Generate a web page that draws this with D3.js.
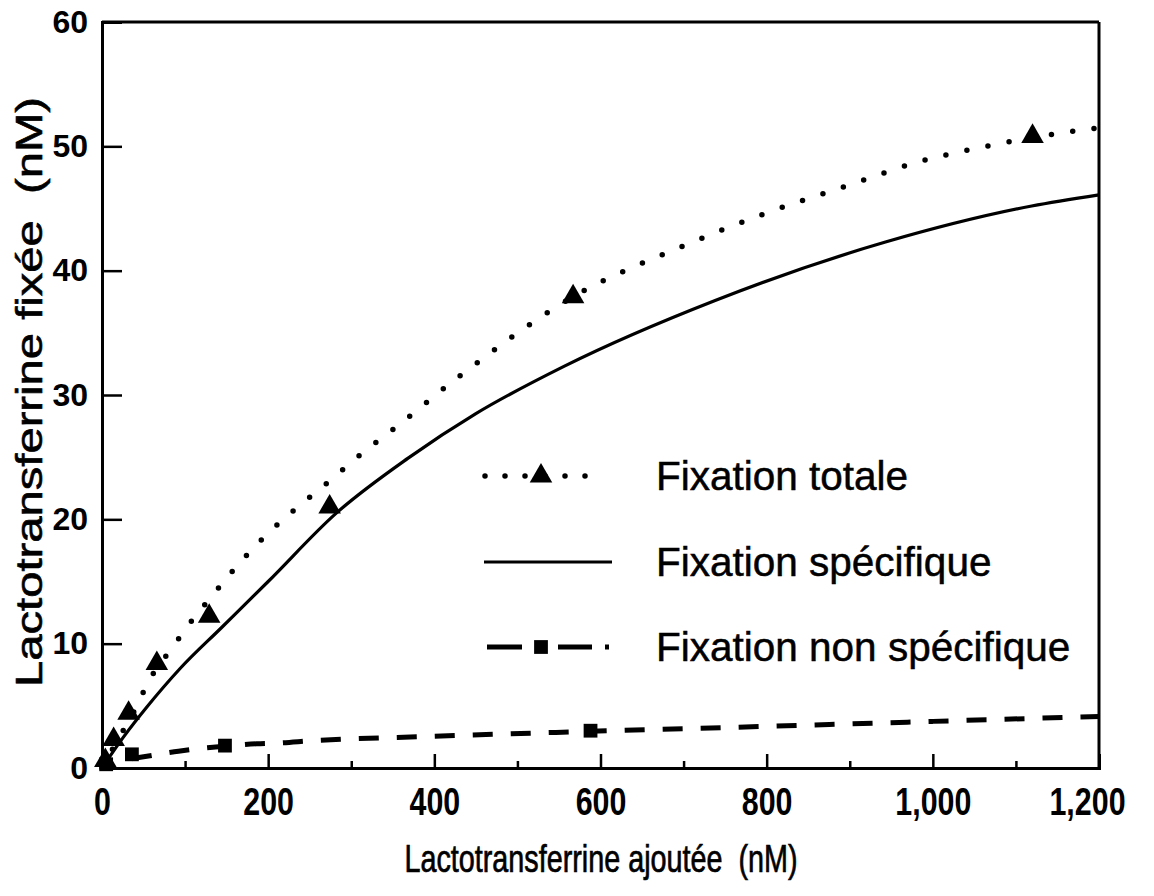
<!DOCTYPE html>
<html>
<head>
<meta charset="utf-8">
<script src="https://cdn.jsdelivr.net/npm/d3@7"></script>
<style>
  body { margin: 0; background: #fff; }
  svg { display: block; }
</style>
</head>
<body>
<div id="chart"></div>
<script>
// measured points (nM)
var totalX = [4, 14, 32, 66, 129, 274, 567, 1120];
var totalY = [0.6, 2.3, 4.4, 8.4, 12.2, 21.0, 37.9, 50.8];
var nonSpecX = [5, 36, 148, 588];
var nonSpecY = [0.3, 1.1, 1.8, 3.0];

// curves read along the lines of the figure
var totalCurveX = [0, 15, 42, 54, 87, 103, 122, 194, 234, 276, 320, 342, 430, 567, 700, 794, 900, 980, 1064, 1120, 1200];
var totalCurveY = [0, 1.8, 5.0, 6.7, 9.9, 11.4, 13.0, 18.5, 20.9, 23.2, 25.7, 26.8, 31.5, 37.9, 42.0, 44.5, 46.9, 48.7, 50.0, 50.7, 51.5];
var specCurveX = [0, 26, 54, 94, 144, 200, 282, 368, 450, 556, 738, 943, 1119, 1200];
var specCurveY = [0, 2.5, 4.9, 8.0, 11.3, 15.0, 20.5, 24.9, 28.5, 32.3, 37.6, 42.3, 45.2, 46.1];
var nonSpecCurveX = [36, 68, 92, 116, 148, 186, 210, 254, 400, 588, 800, 1000, 1200];
var nonSpecCurveY = [0.75, 1.1, 1.35, 1.55, 1.75, 1.95, 2.0, 2.2, 2.55, 2.95, 3.35, 3.75, 4.15];

var xMajor = [0, 200, 400, 600, 800, 1000, 1200];
var xMinor = [100, 300, 500, 700, 900, 1100];
var yTicks = [0, 10, 20, 30, 40, 50, 60];

var legendLabels = ["Fixation totale", "Fixation spécifique", "Fixation non spécifique"];

var width = 1154, height = 896;
var margin = {left: 102, right: 55, top: 22, bottom: 128};

var svg = d3.select("#chart").append("svg")
  .attr("width", width)
  .attr("height", height);

var x = d3.scaleLinear().domain([0, 1200]).range([margin.left, width - margin.right]);
var y = d3.scaleLinear().domain([0, 60]).range([height - margin.bottom, margin.top]);

function zip(xs, ys) {
  return xs.map(function (d, i) { return [d, ys[i]]; });
}

// squeeze text horizontally (no narrow font installed)
function condense(sel, k) {
  sel.each(function () {
    var len = this.getComputedTextLength();
    if (len > 0) {
      d3.select(this)
        .attr("textLength", len * k)
        .attr("lengthAdjust", "spacingAndGlyphs");
    }
  });
}

var line = d3.line()
  .x(function (d) { return x(d[0]); })
  .y(function (d) { return y(d[1]); })
  .curve(d3.curveMonotoneX);

// frame
svg.append("line")
  .attr("x1", x(0)).attr("x2", x(1200))
  .attr("y1", y(60)).attr("y2", y(60))
  .attr("stroke", "#000").attr("stroke-width", 3);
svg.append("line")
  .attr("x1", x(1200)).attr("x2", x(1200))
  .attr("y1", y(60)).attr("y2", y(0))
  .attr("stroke", "#000").attr("stroke-width", 3);

// x axis
var xAxis = svg.append("g")
  .attr("transform", "translate(0," + y(0) + ")")
  .call(d3.axisBottom(x).tickValues(xMajor).tickSize(-14).tickPadding(20).tickFormat(d3.format(",")));
svg.append("g")
  .attr("transform", "translate(0," + y(0) + ")")
  .call(d3.axisBottom(x).tickValues(xMinor).tickSize(-7).tickFormat(""))
  .select(".domain").remove();

xAxis.selectAll("text")
  .attr("font-family", "'Liberation Sans', Arial, sans-serif")
  .attr("font-weight", "bold")
  .attr("font-size", 38)
  .attr("fill", "#000")
  .attr("dx", function (d) { return d === 1200 ? -12 : 0; })
  .call(condense, 0.8);

// y axis
var yAxis = svg.append("g")
  .attr("transform", "translate(" + x(0) + ",0)")
  .call(d3.axisLeft(y).tickValues(yTicks).tickSize(-20).tickPadding(14));

yAxis.selectAll("text")
  .attr("font-family", "'Liberation Sans', Arial, sans-serif")
  .attr("font-weight", "bold")
  .attr("font-size", 32)
  .attr("fill", "#000");

svg.selectAll(".domain").attr("stroke-width", 3);
svg.selectAll(".tick line").attr("stroke-width", 2.5);

// curves
svg.append("path")
  .datum(zip(totalCurveX, totalCurveY))
  .attr("d", line)
  .attr("fill", "none")
  .attr("stroke", "#000")
  .attr("stroke-width", 5.5)
  .attr("stroke-linecap", "round")
  .attr("stroke-dasharray", "0,21.5");

svg.append("path")
  .datum(zip(specCurveX, specCurveY))
  .attr("d", line)
  .attr("fill", "none")
  .attr("stroke", "#000")
  .attr("stroke-width", 3.2);

svg.append("path")
  .datum(zip(nonSpecCurveX, nonSpecCurveY))
  .attr("d", line)
  .attr("fill", "none")
  .attr("stroke", "#000")
  .attr("stroke-width", 5)
  .attr("stroke-dasharray", "20,18");

// markers
var tri = d3.symbol().type(d3.symbolTriangle).size(220);
var sq = d3.symbol().type(d3.symbolSquare).size(190);

svg.append("g").selectAll("path")
  .data(zip(totalX, totalY))
  .enter().append("path")
  .attr("d", tri)
  .attr("transform", function (d) { return "translate(" + x(d[0]) + "," + y(d[1]) + ")"; })
  .attr("fill", "#000");

svg.append("g").selectAll("path")
  .data(zip(nonSpecX, nonSpecY))
  .enter().append("path")
  .attr("d", sq)
  .attr("transform", function (d) { return "translate(" + x(d[0]) + "," + y(d[1]) + ")"; })
  .attr("fill", "#000");

// axis titles
svg.append("text")
  .attr("x", 601)
  .attr("y", 872)
  .attr("text-anchor", "middle")
  .attr("font-family", "'Liberation Sans', Arial, sans-serif")
  .attr("font-size", 38)
  .attr("stroke", "#000")
  .attr("stroke-width", 0.7)
  .attr("textLength", 393)
  .attr("lengthAdjust", "spacingAndGlyphs")
  .attr("xml:space", "preserve")
  .text("Lactotransferrine ajoutée  (nM)");

svg.append("text")
  .attr("transform", "translate(42,392) rotate(-90)")
  .attr("text-anchor", "middle")
  .attr("font-family", "'Liberation Sans', Arial, sans-serif")
  .attr("font-size", 37)
  .attr("stroke", "#000")
  .attr("stroke-width", 0.6)
  .attr("textLength", 590)
  .attr("lengthAdjust", "spacingAndGlyphs")
  .attr("xml:space", "preserve")
  .text("Lactotransferrine fixée  (nM)");

// legend
var legend = svg.append("g");
var rowY = [476, 562, 647];

legend.append("line")
  .attr("x1", 485).attr("x2", 586)
  .attr("y1", rowY[0]).attr("y2", rowY[0])
  .attr("stroke", "#000").attr("stroke-width", 5.5)
  .attr("stroke-linecap", "round")
  .attr("stroke-dasharray", "0,20");
legend.append("path")
  .attr("d", tri)
  .attr("transform", "translate(541," + rowY[0] + ")");

legend.append("line")
  .attr("x1", 484).attr("x2", 612)
  .attr("y1", rowY[1]).attr("y2", rowY[1])
  .attr("stroke", "#000").attr("stroke-width", 3);

legend.append("line")
  .attr("x1", 487).attr("x2", 612)
  .attr("y1", rowY[2]).attr("y2", rowY[2])
  .attr("stroke", "#000").attr("stroke-width", 5)
  .attr("stroke-dasharray", "35,36,34,13,4,100");
legend.append("path")
  .attr("d", sq)
  .attr("transform", "translate(541," + rowY[2] + ")");

legend.selectAll("text")
  .data(legendLabels)
  .enter().append("text")
  .attr("x", 656)
  .attr("y", function (d, i) { return rowY[i] + 14; })
  .attr("font-family", "'Liberation Sans', Arial, sans-serif")
  .attr("font-size", 40.5)
  .attr("stroke", "#000")
  .attr("stroke-width", 0.5)
  .text(function (d) { return d; });
</script>
</body>
</html>
